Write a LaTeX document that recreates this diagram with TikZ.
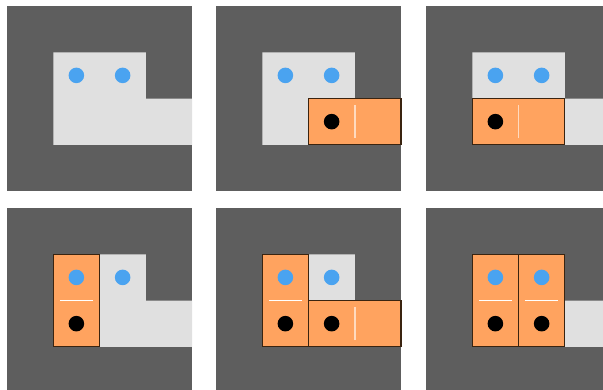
\documentclass[tikz,border=0pt]{standalone}
\usetikzlibrary{calc}
\definecolor{wallgray}{HTML}{5E5E5E}
\definecolor{floorgray}{HTML}{E0E0E0}
\definecolor{holeblue}{HTML}{4AA3F0}
\definecolor{domorange}{HTML}{FFA35F}
\definecolor{domedge}{HTML}{3A2410}
\tikzset{
  wall/.style={fill=wallgray},
  floor/.style={fill=floorgray},
  domino/.style={fill=domorange,draw=domedge,line width=1.2pt},
  hdiv/.style={draw=white!60!domorange,line width=1.5pt},
  vdiv/.style={draw=white,line width=1.5pt},
  hole/.style={fill=holeblue},
  peg/.style={fill=black},
}
% domino lying flat: left cell (#1,#2)
\newcommand\hdom[2]{%
  \draw[domino] (#1,#2) rectangle (#1+2,#2+1);
  \draw[hdiv] (#1+1,#2+0.15) -- (#1+1,#2+0.85);
  \fill[peg] (#1+0.5,#2+0.5) circle (7.8pt);}
% domino standing: top cell (#1,#2)
\newcommand\vdom[2]{%
  \draw[domino] (#1,#2) rectangle (#1+1,#2+2);
  \draw[vdiv] (#1+0.15,#2+1) -- (#1+0.85,#2+1);
  \fill[hole] (#1+0.5,#2+0.5) circle (7.8pt);
  \fill[peg] (#1+0.5,#2+1.5) circle (7.8pt);}

\begin{document}
\begin{tikzpicture}[x={(1pt,0)},y={(0,-1pt)}]
\useasboundingbox (0,0) rectangle (603,389);
\clip (0,0) rectangle (603,389);
\foreach \ox/\oy/\doms in {7/6/{}, 216/6/{\hdom{2}{2}}, 426/6/{\hdom{1}{2}},
  7/208/{\vdom{1}{1}}, 216/208/{\vdom{1}{1}\hdom{2}{2}}, 426/208/{\vdom{1}{1}\vdom{2}{1}}} {
  \begin{scope}[shift={(\ox,\oy)},x={(46.25pt,0)},y={(0,-46.25pt)}]
    \fill[wall] (0,0) rectangle (4,4);
    \fill[floor] (1,1) -- (3,1) -- (3,2) -- (4,2) -- (4,3) -- (1,3) -- cycle;
    \foreach \c in {1,2} {\fill[hole] (\c+0.5,1.5) circle (7.8pt);}
    \doms
  \end{scope}
}
\end{tikzpicture}
\end{document}
